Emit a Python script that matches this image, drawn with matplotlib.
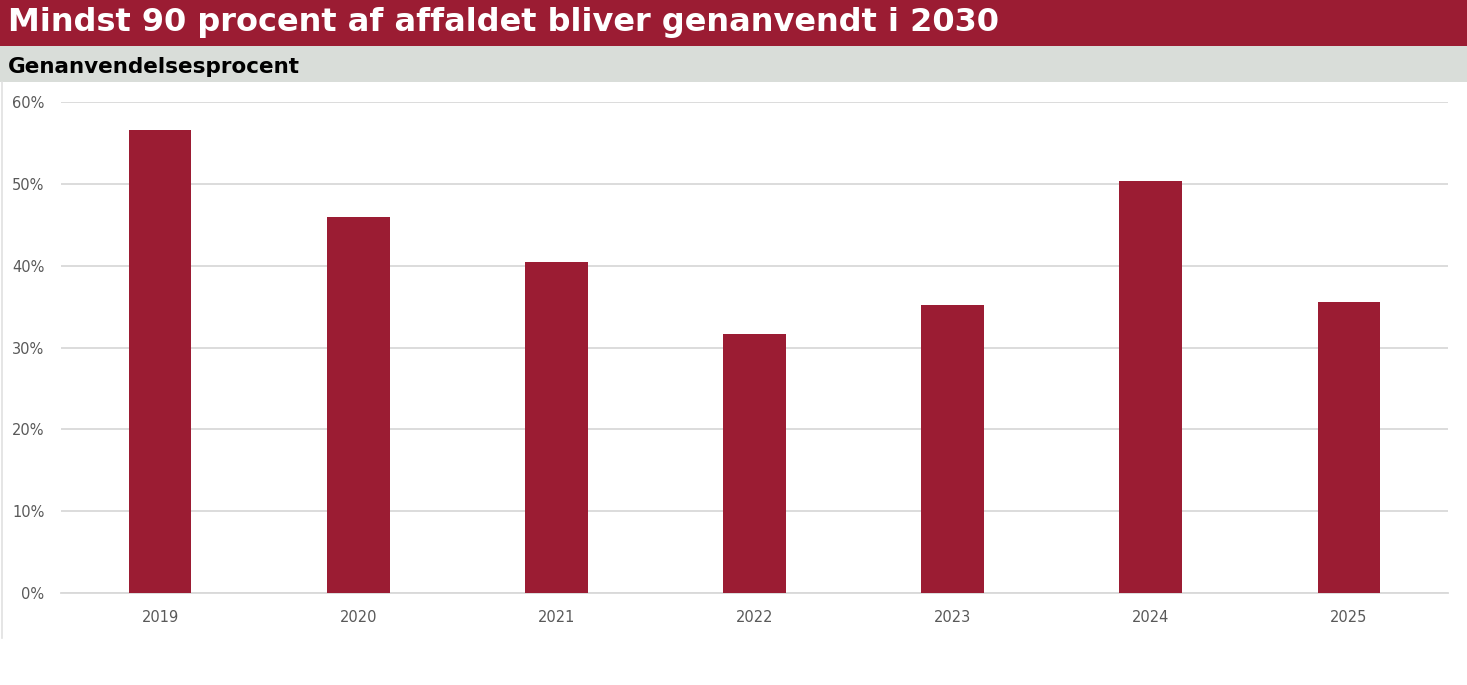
import matplotlib
matplotlib.use('Agg')
import matplotlib.pyplot as plt
from matplotlib.patches import Rectangle
from matplotlib.lines import Line2D
import numpy as np

# data
years = ['2019', '2020', '2021', '2022', '2023', '2024', '2025']
recycling_pct = [56.6, 46.0, 40.4, 31.6, 35.2, 50.3, 35.5]
y_ticks = [0, 10, 20, 30, 40, 50, 60]

title = 'Mindst 90 procent af affaldet bliver genanvendt i 2030'
subtitle = 'Genanvendelsesprocent'

red = '#9B1C33'
band_grey = '#D9DDD9'
grid_grey = '#D9D9D9'
tick_grey = '#595959'

W, H = 1467, 685
fig = plt.figure(figsize=(W / 100, H / 100), dpi=100)
fig.patch.set_facecolor('white')

# title banner + subtitle band (figure pixel coords converted to fractions)
fig.patches.append(Rectangle((0, 1 - 46 / H), 1, 46 / H, transform=fig.transFigure,
                             facecolor=red, edgecolor='none', zorder=0))
fig.patches.append(Rectangle((0, 1 - 82 / H), 1, 36 / H, transform=fig.transFigure,
                             facecolor=band_grey, edgecolor='none', zorder=0))
fig.text(8 / W, 1 - 23 / H, title, color='white', fontsize=23, fontweight='bold',
         va='center', ha='left', family='DejaVu Sans')
fig.text(8 / W, 1 - 67 / H, subtitle, color='black', fontsize=15.5, fontweight='bold',
         va='center', ha='left', family='DejaVu Sans')

# thin border line at the left edge
fig.lines.append(Line2D([2 / W, 2 / W], [1 - 638 / H, 1 - 82 / H], transform=fig.transFigure,
                        color='#E0E0E0', linewidth=1.2))

# plot area: x 61..1448, y 0% at 593, 60% at 102
ax = fig.add_axes([61 / W, 1 - 593 / H, (1448 - 61) / W, (593 - 102) / H])
x = np.arange(len(years))
ax.bar(x, recycling_pct, width=0.317, color=red, zorder=3)

ax.set_xlim(-0.5, len(years) - 0.5)
ax.set_ylim(0, 60)
ax.set_yticks(y_ticks)
ax.set_yticklabels([f'{t}%' for t in y_ticks])
ax.set_xticks(x)
ax.set_xticklabels(years)
ax.grid(axis='y', color=grid_grey, linewidth=1.3, zorder=0)
ax.set_axisbelow(True)
for s in ['top', 'right', 'left']:
    ax.spines[s].set_visible(False)
ax.spines['bottom'].set_color(grid_grey)
ax.spines['bottom'].set_linewidth(1.3)
ax.tick_params(axis='both', length=0, labelsize=10.5, colors=tick_grey)
ax.tick_params(axis='y', pad=12)
ax.tick_params(axis='x', pad=12)
for lbl in ax.get_xticklabels() + ax.get_yticklabels():
    lbl.set_family('DejaVu Sans')

fig.savefig('out.png', dpi=100)
